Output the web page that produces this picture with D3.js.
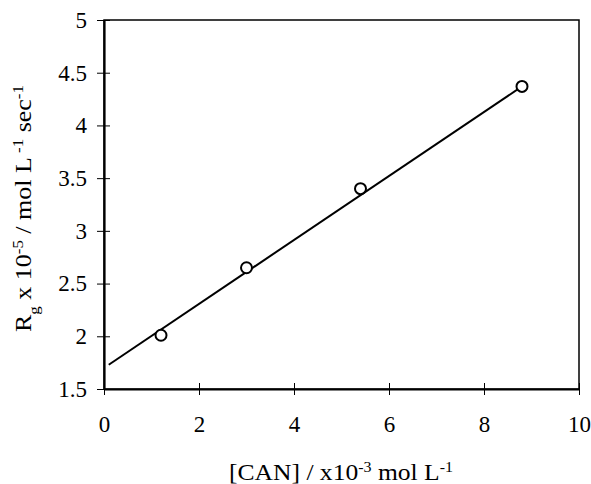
<!DOCTYPE html>
<html>
<head>
<meta charset="utf-8">
<script src="https://cdn.jsdelivr.net/npm/d3@7"></script>
<style>
  body { margin: 0; background: #fff; }
  svg { display: block; font-family: "Liberation Serif", "Times New Roman", serif; }
  .tick text { font-family: "Liberation Serif", serif; font-size: 23px; fill: #000; }
</style>
</head>
<body>
<div id="chart"></div>
<script>
// measured points
const canConc = [1.2, 3.0, 5.4, 8.8];
const rateRg = [2.01, 2.65, 3.40, 4.37];
// fitted line end points
const fitX = [0.1, 8.8];
const fitY = [1.73, 4.37];
const xTicks = [0, 2, 4, 6, 8, 10];
const yTicks = [1.5, 2, 2.5, 3, 3.5, 4, 4.5, 5];

const width = 591, height = 484;
const margin = { top: 20, right: 12, bottom: 95, left: 104 };

const svg = d3.select("#chart").append("svg")
  .attr("width", width)
  .attr("height", height);

const x = d3.scaleLinear().domain([0, 10]).range([margin.left, width - margin.right]);
const y = d3.scaleLinear().domain([1.5, 5]).range([height - margin.bottom, margin.top]);

// box
svg.append("rect")
  .attr("x", x(0)).attr("y", y(5))
  .attr("width", x(10) - x(0)).attr("height", y(1.5) - y(5))
  .attr("fill", "none").attr("stroke", "#000").attr("stroke-width", 1.5);

// x axis
const xAxis = svg.append("g")
  .attr("transform", `translate(0,${y(1.5)})`)
  .call(d3.axisBottom(x).tickValues(xTicks).tickSizeInner(6).tickSizeOuter(0).tickPadding(5).tickFormat(d3.format("d")));
xAxis.selectAll(".tick line").attr("y1", -6).attr("stroke-width", 1);
xAxis.select(".domain").attr("stroke-width", 2.2);
xAxis.selectAll(".tick text").attr("dy", null).attr("y", 43);

// y axis
const yAxis = svg.append("g")
  .attr("transform", `translate(${x(0)},0)`)
  .call(d3.axisLeft(y).tickValues(yTicks).tickSizeInner(7).tickSizeOuter(0).tickPadding(10).tickFormat(d => String(d)));
yAxis.selectAll(".tick line").attr("x1", 6).attr("stroke-width", 1);
yAxis.select(".domain").attr("stroke-width", 2.2);

// fit line
svg.append("line")
  .attr("x1", x(fitX[0])).attr("y1", y(fitY[0]))
  .attr("x2", x(fitX[1])).attr("y2", y(fitY[1]))
  .attr("stroke", "#000").attr("stroke-width", 2);

// points
svg.append("g").selectAll("circle")
  .data(canConc)
  .join("circle")
  .attr("cx", d => x(d))
  .attr("cy", (d, i) => y(rateRg[i]))
  .attr("r", 5.5)
  .attr("fill", "#fff")
  .attr("stroke", "#000")
  .attr("stroke-width", 2);

// x title
const xt = svg.append("text")
  .attr("x", 229).attr("y", 480)
  .attr("textLength", 224)
  .attr("lengthAdjust", "spacingAndGlyphs")
  .style("font-size", "24px");
xt.append("tspan").text("[CAN] / x10");
xt.append("tspan").attr("baseline-shift", "super").style("font-size", "15px").text("-3");
xt.append("tspan").text(" mol L");
xt.append("tspan").attr("baseline-shift", "super").style("font-size", "15px").text("-1");

// y title
const yt = svg.append("text")
  .attr("transform", `translate(31,332) rotate(-90)`)
  .attr("textLength", 247)
  .attr("lengthAdjust", "spacingAndGlyphs")
  .style("font-size", "23px");
yt.append("tspan").text("R");
yt.append("tspan").attr("baseline-shift", "sub").style("font-size", "15px").text("g");
yt.append("tspan").text(" x 10");
yt.append("tspan").attr("baseline-shift", "super").style("font-size", "15px").text("-5");
yt.append("tspan").text(" / mol L");
yt.append("tspan").attr("baseline-shift", "super").style("font-size", "15px").text(" -1");
yt.append("tspan").text(" sec");
yt.append("tspan").attr("baseline-shift", "super").style("font-size", "15px").text("-1");
</script>
</body>
</html>
